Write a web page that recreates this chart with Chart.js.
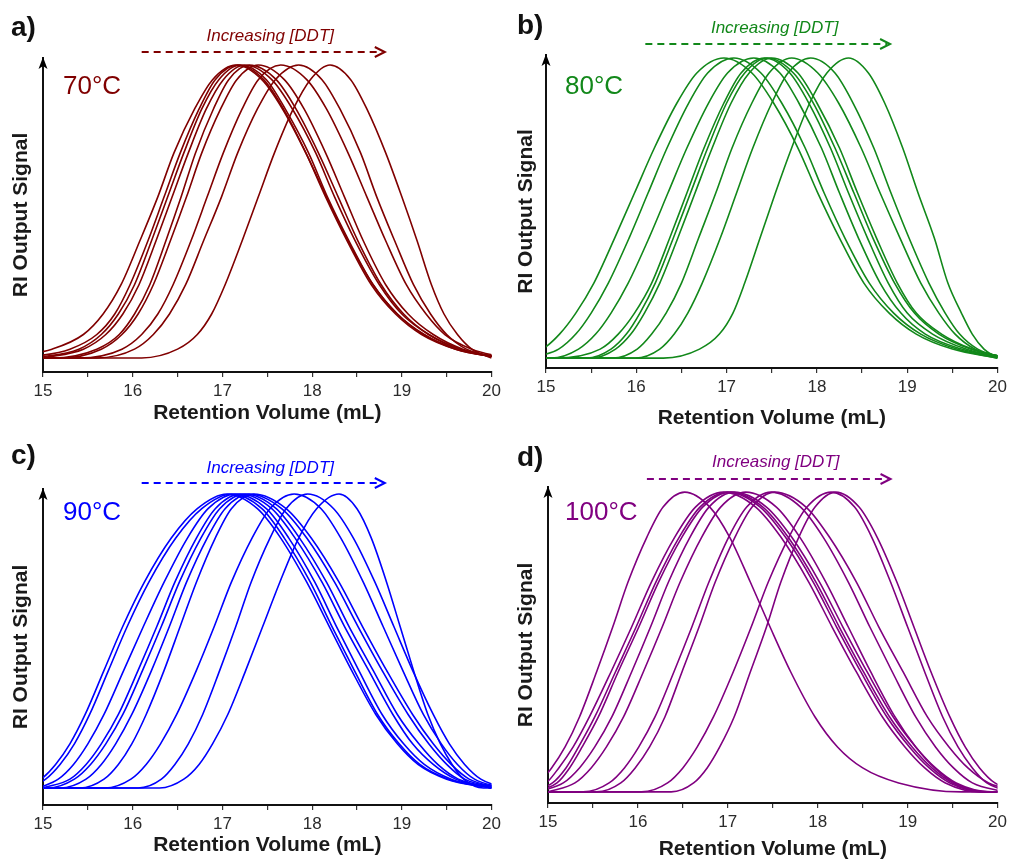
<!DOCTYPE html>
<html>
<head>
<meta charset="utf-8">
<title>RI traces vs DDT</title>
<script src="https://cdn.jsdelivr.net/npm/chart.js@4.4.0/dist/chart.umd.min.js"></script>
<style>
    html, body { margin: 0; padding: 0; background: #fff; }
    #wrap { position: relative; width: 1011px; height: 865px; overflow: hidden; }
    #wrap canvas { position: absolute; }
</style>
</head>
<body>
<div id="wrap">
    <canvas id="panel-a" width="505" height="432" style="left:0;top:0;width:505px;height:432px"></canvas>
    <canvas id="panel-b" width="506" height="432" style="left:505px;top:0;width:506px;height:432px"></canvas>
    <canvas id="panel-c" width="505" height="433" style="left:0;top:432px;width:505px;height:433px"></canvas>
    <canvas id="panel-d" width="506" height="433" style="left:505px;top:432px;width:506px;height:433px"></canvas>
</div>
<script>
// ---------------- Data ----------------
// each trace is read off as: volume (mL) where it crosses each signal level on the way up,
// the peak volume (signal = 1), and the volume where it crosses each level on the way down
const levels = [0, 0.03, 0.08, 0.15, 0.25, 0.4, 0.55, 0.7, 0.85, 0.95];
const volumeTicks = [15, 16, 17, 18, 19, 20];

// 70 °C
const peaks70 = [17.15, 17.17, 17.2, 17.25, 17.3, 17.4, 17.65, 17.85, 18.2];
const rise70 = [
    [14.6, 15.1, 15.45, 15.67, 15.87, 16.08, 16.28, 16.46, 16.69, 16.89],
    [14.8, 15.3, 15.6, 15.8, 15.97, 16.17, 16.35, 16.53, 16.74, 16.92],
    [14.9, 15.4, 15.65, 15.84, 16.02, 16.21, 16.39, 16.57, 16.77, 16.96],
    [15.0, 15.45, 15.7, 15.89, 16.07, 16.26, 16.44, 16.62, 16.82, 17.01],
    [15.1, 15.6, 15.85, 16.02, 16.19, 16.37, 16.54, 16.70, 16.90, 17.07],
    [15.2, 15.65, 15.88, 16.06, 16.23, 16.42, 16.60, 16.77, 16.98, 17.16],
    [15.4, 15.88, 16.1, 16.28, 16.45, 16.65, 16.83, 17.01, 17.22, 17.40],
    [15.6, 16.02, 16.23, 16.41, 16.59, 16.79, 16.99, 17.17, 17.39, 17.59],
    [16.1, 16.5, 16.72, 16.88, 17.03, 17.22, 17.4, 17.58, 17.79, 17.98]
];
const fall70 = [
    [20.1, 19.6, 19.25, 18.95, 18.68, 18.4, 18.16, 17.93, 17.67, 17.44],
    [20.1, 19.6, 19.22, 18.93, 18.66, 18.39, 18.15, 17.93, 17.68, 17.46],
    [20.1, 19.62, 19.24, 18.95, 18.68, 18.41, 18.17, 17.96, 17.70, 17.49],
    [20.1, 19.65, 19.3, 19.0, 18.75, 18.48, 18.25, 18.04, 17.78, 17.55],
    [20.1, 19.65, 19.3, 19.02, 18.77, 18.51, 18.29, 18.07, 17.82, 17.60],
    [20.1, 19.68, 19.35, 19.07, 18.82, 18.57, 18.36, 18.15, 17.91, 17.69],
    [20.15, 19.78, 19.48, 19.27, 19.05, 18.82, 18.61, 18.40, 18.16, 17.94],
    [20.1, 19.72, 19.5, 19.32, 19.13, 18.92, 18.72, 18.54, 18.31, 18.11],
    [20.0, 19.78, 19.62, 19.47, 19.33, 19.17, 19.0, 18.82, 18.61, 18.43]
];

// 80 °C
const peaks80 = [16.97, 17.08, 17.3, 17.42, 17.45, 17.5, 17.72, 17.93, 18.35];
const rise80 = [
    [14.64, 14.96, 15.15, 15.33, 15.53, 15.76, 15.98, 16.20, 16.45, 16.67],
    [14.84, 15.14, 15.33, 15.50, 15.69, 15.92, 16.13, 16.34, 16.58, 16.79],
    [15.06, 15.36, 15.55, 15.72, 15.91, 16.14, 16.35, 16.56, 16.80, 17.01],
    [15.1, 15.6, 15.8, 15.98, 16.17, 16.37, 16.56, 16.75, 16.97, 17.16],
    [15.45, 15.72, 15.89, 16.04, 16.21, 16.41, 16.60, 16.79, 17.00, 17.20],
    [15.50, 15.77, 15.94, 16.09, 16.26, 16.46, 16.65, 16.84, 17.05, 17.25],
    [15.74, 16.01, 16.17, 16.33, 16.50, 16.69, 16.88, 17.06, 17.28, 17.47],
    [15.99, 16.26, 16.42, 16.57, 16.73, 16.93, 17.11, 17.29, 17.50, 17.68],
    [16.3, 16.7, 16.92, 17.07, 17.2, 17.37, 17.54, 17.72, 17.92, 18.11]
];
const fall80 = [
    [20.0, 19.5, 19.1, 18.8, 18.52, 18.25, 18.01, 17.79, 17.52, 17.28],
    [20.0, 19.55, 19.15, 18.85, 18.58, 18.31, 18.08, 17.87, 17.61, 17.38],
    [20.05, 19.6, 19.2, 18.93, 18.7, 18.46, 18.25, 18.05, 17.80, 17.59],
    [20.05, 19.65, 19.28, 19.0, 18.79, 18.56, 18.35, 18.15, 17.91, 17.70],
    [20.1, 19.7, 19.35, 19.08, 18.86, 18.62, 18.41, 18.20, 17.96, 17.74],
    [20.1, 19.72, 19.38, 19.1, 18.89, 18.66, 18.45, 18.25, 18.00, 17.79],
    [20.1, 19.75, 19.53, 19.35, 19.15, 18.92, 18.70, 18.49, 18.24, 18.01],
    [20.1, 19.78, 19.58, 19.42, 19.24, 19.02, 18.82, 18.63, 18.40, 18.20],
    [20.0, 19.85, 19.72, 19.6, 19.45, 19.30, 19.12, 18.95, 18.75, 18.57]
];

// 90 °C
const peaks90 = [17.05, 17.1, 17.15, 17.2, 17.25, 17.3, 17.35, 17.8, 17.95, 18.3];
const rise90 = [
    [14.8, 14.98, 15.14, 15.3, 15.47, 15.68, 15.89, 16.13, 16.43, 16.72],
    [14.85, 15.03, 15.19, 15.35, 15.52, 15.73, 15.94, 16.18, 16.48, 16.77],
    [14.95, 15.17, 15.34, 15.5, 15.68, 15.9, 16.12, 16.35, 16.61, 16.84],
    [15.0, 15.3, 15.48, 15.65, 15.84, 16.06, 16.27, 16.47, 16.71, 16.92],
    [15.05, 15.35, 15.53, 15.70, 15.89, 16.11, 16.32, 16.52, 16.76, 16.97],
    [15.19, 15.48, 15.65, 15.81, 15.99, 16.21, 16.41, 16.60, 16.83, 17.03],
    [15.41, 15.68, 15.84, 15.99, 16.15, 16.35, 16.53, 16.71, 16.92, 17.10],
    [15.69, 15.98, 16.15, 16.31, 16.49, 16.71, 16.91, 17.10, 17.33, 17.53],
    [16.06, 16.32, 16.47, 16.62, 16.78, 16.97, 17.15, 17.32, 17.53, 17.71],
    [16.30, 16.57, 16.74, 16.89, 17.06, 17.26, 17.45, 17.64, 17.85, 18.05]
];
const fall90 = [
    [20.0, 19.5, 19.18, 18.95, 18.71, 18.44, 18.19, 17.94, 17.65, 17.39],
    [20.0, 19.52, 19.2, 18.97, 18.73, 18.47, 18.22, 17.98, 17.69, 17.44],
    [20.0, 19.55, 19.25, 19.02, 18.78, 18.52, 18.27, 18.03, 17.74, 17.49],
    [20.0, 19.6, 19.35, 19.12, 18.9, 18.63, 18.36, 18.11, 17.81, 17.55],
    [20.05, 19.63, 19.40, 19.19, 18.95, 18.68, 18.41, 18.16, 17.86, 17.60],
    [20.1, 19.7, 19.5, 19.3, 19.07, 18.78, 18.51, 18.25, 17.94, 17.66],
    [20.1, 19.75, 19.55, 19.35, 19.12, 18.83, 18.56, 18.30, 17.99, 17.71],
    [20.13, 19.81, 19.62, 19.44, 19.24, 19.01, 18.79, 18.57, 18.32, 18.10],
    [20.15, 19.88, 19.7, 19.53, 19.35, 19.12, 18.91, 18.70, 18.46, 18.24],
    [19.91, 19.69, 19.56, 19.43, 19.29, 19.13, 18.98, 18.83, 18.66, 18.50]
];

// 100 °C
const peaks100 = [16.52, 16.95, 17.0, 17.03, 17.07, 17.2, 17.48, 17.52, 18.15, 18.2];
const rise100 = [
    [14.63, 14.89, 15.04, 15.19, 15.35, 15.54, 15.72, 15.89, 16.10, 16.28],
    [14.7, 14.98, 15.12, 15.28, 15.46, 15.70, 15.93, 16.15, 16.41, 16.64],
    [14.8, 15.05, 15.2, 15.34, 15.52, 15.75, 15.98, 16.20, 16.46, 16.69],
    [14.85, 15.1, 15.24, 15.38, 15.56, 15.78, 16.01, 16.23, 16.49, 16.72],
    [14.87, 15.17, 15.35, 15.52, 15.71, 15.93, 16.14, 16.34, 16.58, 16.79],
    [15.0, 15.3, 15.48, 15.65, 15.84, 16.06, 16.27, 16.47, 16.71, 16.92],
    [15.39, 15.68, 15.85, 16.01, 16.19, 16.40, 16.60, 16.79, 17.01, 17.21],
    [15.54, 15.81, 15.97, 16.13, 16.30, 16.49, 16.68, 16.86, 17.08, 17.27],
    [16.04, 16.33, 16.50, 16.66, 16.84, 17.06, 17.26, 17.45, 17.68, 17.88],
    [16.37, 16.62, 16.77, 16.91, 17.07, 17.25, 17.43, 17.59, 17.79, 17.97]
];
const fall100 = [
    [19.6, 18.9, 18.5, 18.22, 17.97, 17.7, 17.47, 17.25, 17.02, 16.8],
    [19.81, 19.42, 19.19, 18.97, 18.72, 18.43, 18.16, 17.90, 17.59, 17.31],
    [19.86, 19.47, 19.24, 19.02, 18.77, 18.48, 18.21, 17.95, 17.64, 17.36],
    [19.89, 19.50, 19.27, 19.05, 18.80, 18.51, 18.24, 17.98, 17.67, 17.39],
    [19.93, 19.54, 19.31, 19.09, 18.84, 18.55, 18.28, 18.02, 17.71, 17.43],
    [19.88, 19.52, 19.30, 19.09, 18.86, 18.59, 18.34, 18.09, 17.80, 17.54],
    [20.08, 19.72, 19.51, 19.31, 19.09, 18.83, 18.58, 18.34, 18.06, 17.81],
    [20.27, 19.90, 19.67, 19.46, 19.22, 18.95, 18.68, 18.43, 18.13, 17.87],
    [20.15, 19.88, 19.72, 19.56, 19.39, 19.19, 19.00, 18.81, 18.60, 18.41],
    [20.25, 19.97, 19.80, 19.64, 19.47, 19.26, 19.07, 18.88, 18.66, 18.46]
];

// ---------------- Panels (layout + style) ----------------
const FONT = '"Liberation Sans", Arial, Helvetica, sans-serif';

const panels = [
    { id: "panel-a", letter: "a)", temp: "70°C", color: "#800000",
      peaks: peaks70, rise: rise70, fall: fall70,
      area: { left: 43, right: 10, top: 58, axisH: 60 }, yRange: [-0.048, 1.024], titlePad: 6,
      letterPos: [11, 36], tempPos: [20, 36], ddt: { text: 17, arrow: 6 } },
    { id: "panel-b", letter: "b)", temp: "80°C", color: "#12881a",
      peaks: peaks80, rise: rise80, fall: fall80,
      area: { left: 41, right: 13, top: 55, axisH: 64 }, yRange: [-0.033, 1.01], titlePad: 1,
      letterPos: [12, 34], tempPos: [19, 39], ddt: { text: 22, arrow: 11 } },
    { id: "panel-c", letter: "c)", temp: "90°C", color: "#0000ff",
      peaks: peaks90, rise: rise90, fall: fall90,
      area: { left: 43, right: 8, top: 57, axisH: 60 }, yRange: [-0.058, 1.017], titlePad: 7,
      letterPos: [11, 32], tempPos: [20, 31], ddt: { text: 16, arrow: 6 } },
    { id: "panel-d", letter: "d)", temp: "100°C", color: "#800080",
      peaks: peaks100, rise: rise100, fall: fall100,
      area: { left: 43, right: 11, top: 55, axisH: 62 }, yRange: [-0.037, 1.017], titlePad: 3,
      letterPos: [12, 34], tempPos: [17, 33], ddt: { text: 20, arrow: 8 } }
];

// "Increasing [DDT]" arrow runs over this volume span
const ddtSpan = [16.1, 18.81];

// ---------------- Helpers ----------------
function buildTrace(rise, peak, fall) {
    const pts = [];
    if (rise[0] > 15) pts.push({ x: 15, y: 0 });
    rise.forEach((v, i) => pts.push({ x: v, y: levels[i] }));
    pts.push({ x: peak, y: 1 });
    for (let i = fall.length - 1; i >= 0; i--) pts.push({ x: fall[i], y: levels[i] });
    if (fall[0] < 20) pts.push({ x: 20, y: 0 });
    return pts;
}

// arrow head on y axis, panel letter, temperature, dashed "Increasing [DDT]" arrow
const decorPlugin = {
    id: "decor",
    afterDraw(chart, args, opts) {
        const { ctx, chartArea: a, scales: { x } } = chart;
        const p = opts.panel;
        ctx.save();

        // y axis arrow head
        ctx.fillStyle = "#000";
        ctx.beginPath();
        ctx.moveTo(a.left, a.top - 1);
        ctx.lineTo(a.left - 4.5, a.top + 11);
        ctx.lineTo(a.left, a.top + 8);
        ctx.lineTo(a.left + 4.5, a.top + 11);
        ctx.closePath();
        ctx.fill();

        // panel letter
        ctx.font = "bold 28px " + FONT;
        ctx.fillStyle = "#111";
        ctx.textAlign = "left";
        ctx.textBaseline = "alphabetic";
        ctx.fillText(p.letter, p.letterPos[0], p.letterPos[1]);

        // temperature
        ctx.font = "26px " + FONT;
        ctx.fillStyle = p.color;
        ctx.fillText(p.temp, a.left + p.tempPos[0], a.top + p.tempPos[1]);

        // dashed arrow + label
        const x0 = x.getPixelForValue(ddtSpan[0]);
        const x1 = x.getPixelForValue(ddtSpan[1]);
        const ya = a.top - p.ddt.arrow;
        ctx.strokeStyle = p.color;
        ctx.lineWidth = 2;
        ctx.setLineDash([7, 5]);
        ctx.beginPath();
        ctx.moveTo(x0, ya);
        ctx.lineTo(x1 - 3, ya);
        ctx.stroke();
        ctx.setLineDash([]);
        ctx.beginPath();
        ctx.moveTo(x1 - 10, ya - 5);
        ctx.lineTo(x1, ya);
        ctx.lineTo(x1 - 10, ya + 5);
        ctx.stroke();

        ctx.font = "italic 17px " + FONT;
        ctx.textAlign = "center";
        ctx.fillText("Increasing [DDT]", (x0 + x1) / 2 + 7, a.top - p.ddt.text);

        ctx.restore();
    }
};

// ---------------- Charts ----------------
panels.forEach(p => {
    const canvas = document.getElementById(p.id);
    const datasets = p.peaks.map((pk, i) => ({
        data: buildTrace(p.rise[i], pk, p.fall[i]),
        borderColor: p.color,
        borderWidth: 1.6,
        pointRadius: 0,
        fill: false,
        cubicInterpolationMode: "monotone"
    }));

    new Chart(canvas.getContext("2d"), {
        type: "line",
        data: { datasets },
        options: {
            responsive: false,
            animation: false,
            events: [],
            layout: { padding: { left: 0, right: p.area.right, top: p.area.top, bottom: 0 } },
            plugins: {
                legend: { display: false },
                tooltip: { enabled: false },
                decor: { panel: p }
            },
            scales: {
                x: {
                    type: "linear",
                    min: 15,
                    max: 20,
                    afterFit: s => { s.height = p.area.axisH; },
                    afterBuildTicks: s => {
                        const t = [];
                        volumeTicks.forEach((v, i) => {
                            t.push({ value: v });
                            if (i < volumeTicks.length - 1) t.push({ value: v + 0.5 });
                        });
                        s.ticks = t;
                    },
                    ticks: {
                        autoSkip: false,
                        maxRotation: 0,
                        padding: 4,
                        color: "#2b2b2b",
                        font: { family: FONT, size: 17 },
                        callback: v => (volumeTicks.includes(v) ? String(v) : "")
                    },
                    grid: { display: true, drawOnChartArea: false, drawTicks: true, tickLength: 5, color: "#333", lineWidth: 1.2 },
                    border: { display: true, color: "#111", width: 2 },
                    title: {
                        display: true,
                        text: "Retention Volume (mL)",
                        color: "#1a1a1a",
                        font: { family: FONT, size: 21, weight: "bold" },
                        padding: { top: 0, bottom: p.titlePad }
                    }
                },
                y: {
                    type: "linear",
                    min: p.yRange[0],
                    max: p.yRange[1],
                    afterFit: s => { s.width = p.area.left; },
                    ticks: { display: false },
                    grid: { display: false },
                    border: { display: true, color: "#111", width: 2 },
                    title: {
                        display: true,
                        text: "RI Output Signal",
                        color: "#1a1a1a",
                        font: { family: FONT, size: 21, weight: "bold" },
                        padding: { top: 9, bottom: 0 }
                    }
                }
            }
        },
        plugins: [decorPlugin]
    });
});
</script>
</body>
</html>
